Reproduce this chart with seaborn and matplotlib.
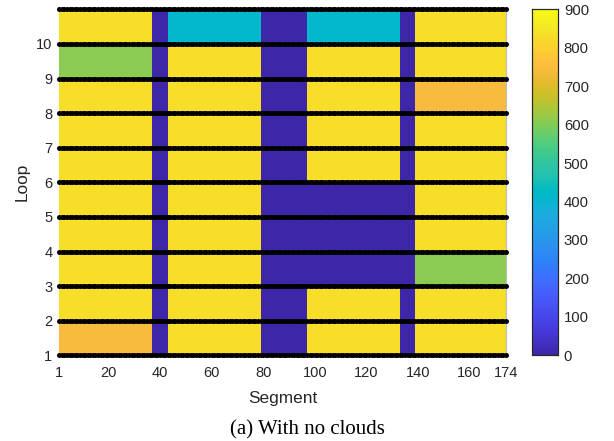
import numpy as np
import pandas as pd
import matplotlib
matplotlib.use("Agg")
import matplotlib.pyplot as plt
from matplotlib.colors import LinearSegmentedColormap
import seaborn as sns

# Segment boundaries of the constant blocks along each loop (segments 1..174)
block_edges = [1, 37, 43, 79, 97, 133, 139, 174]

# Value of every block, one list per loop band (loop 1-2 first, loop 10-11 last)
band_values = [
    [745, 0, 830, 0, 830, 0, 830],   # loop 1-2
    [830, 0, 830, 0, 830, 0, 830],   # loop 2-3
    [830, 0, 830, 0, 0, 0, 610],     # loop 3-4
    [830, 0, 830, 0, 0, 0, 830],     # loop 4-5
    [830, 0, 830, 0, 0, 0, 830],     # loop 5-6
    [830, 0, 830, 0, 830, 0, 830],   # loop 6-7
    [830, 0, 830, 0, 830, 0, 830],   # loop 7-8
    [830, 0, 830, 0, 830, 0, 745],   # loop 8-9
    [610, 0, 830, 0, 830, 0, 830],   # loop 9-10
    [830, 0, 410, 0, 410, 0, 830],   # loop 10-11
]

segments = np.arange(1, 175)
loops = np.arange(1, 12)
x_ticks = [1, 20, 40, 60, 80, 100, 120, 140, 160, 174]
y_ticks = list(range(1, 11))
cbar_ticks = list(range(0, 1000, 100))

# parula colour map
parula_rgb = [
    (0.2422, 0.1504, 0.6603), (0.2504, 0.1650, 0.7076), (0.2578, 0.1818, 0.7511),
    (0.2647, 0.1978, 0.7952), (0.2706, 0.2147, 0.8364), (0.2751, 0.2342, 0.8710),
    (0.2783, 0.2559, 0.8991), (0.2803, 0.2782, 0.9221), (0.2813, 0.3006, 0.9414),
    (0.2810, 0.3228, 0.9579), (0.2795, 0.3447, 0.9717), (0.2760, 0.3667, 0.9829),
    (0.2699, 0.3892, 0.9906), (0.2602, 0.4123, 0.9952), (0.2440, 0.4358, 0.9988),
    (0.2206, 0.4603, 0.9973), (0.1963, 0.4847, 0.9892), (0.1834, 0.5074, 0.9798),
    (0.1786, 0.5289, 0.9682), (0.1764, 0.5499, 0.9520), (0.1687, 0.5703, 0.9359),
    (0.1540, 0.5902, 0.9218), (0.1460, 0.6091, 0.9079), (0.1380, 0.6276, 0.8973),
    (0.1248, 0.6459, 0.8883), (0.1113, 0.6635, 0.8763), (0.0952, 0.6798, 0.8598),
    (0.0689, 0.6948, 0.8394), (0.0297, 0.7082, 0.8163), (0.0036, 0.7203, 0.7917),
    (0.0067, 0.7312, 0.7660), (0.0433, 0.7411, 0.7394), (0.0964, 0.7500, 0.7120),
    (0.1408, 0.7584, 0.6842), (0.1717, 0.7670, 0.6554), (0.1938, 0.7758, 0.6251),
    (0.2161, 0.7843, 0.5923), (0.2470, 0.7918, 0.5567), (0.2906, 0.7973, 0.5188),
    (0.3406, 0.8008, 0.4789), (0.3909, 0.8029, 0.4354), (0.4456, 0.8024, 0.3909),
    (0.5044, 0.7993, 0.3480), (0.5616, 0.7942, 0.3045), (0.6174, 0.7876, 0.2612),
    (0.6720, 0.7793, 0.2227), (0.7242, 0.7698, 0.1910), (0.7738, 0.7598, 0.1646),
    (0.8203, 0.7498, 0.1535), (0.8634, 0.7406, 0.1596), (0.9035, 0.7330, 0.1774),
    (0.9393, 0.7288, 0.2100), (0.9728, 0.7298, 0.2394), (0.9956, 0.7434, 0.2371),
    (0.9970, 0.7659, 0.2199), (0.9952, 0.7893, 0.2028), (0.9892, 0.8136, 0.1885),
    (0.9786, 0.8386, 0.1766), (0.9676, 0.8639, 0.1643), (0.9610, 0.8890, 0.1537),
    (0.9597, 0.9135, 0.1423), (0.9628, 0.9373, 0.1265), (0.9691, 0.9606, 0.1064),
    (0.9769, 0.9839, 0.0805),
]
parula = LinearSegmentedColormap.from_list("parula", parula_rgb, N=256)

# Expand block values into one cell per segment interval
widths = np.diff(block_edges)
grid = np.array([np.repeat(row, widths) for row in band_values], dtype=float)
df = pd.DataFrame(grid, index=loops[:-1], columns=segments[:-1])

sns.set_style("white")
plt.rcParams["font.family"] = ["Liberation Sans", "DejaVu Sans"]
text_color = "#262626"

fig = plt.figure(figsize=(6.14, 4.41), dpi=100)
ax = fig.add_axes([0.0966, 0.1943, 0.7270, 0.7846])
cax = fig.add_axes([0.8660, 0.1943, 0.0433, 0.7846])

sns.heatmap(df, cmap=parula, vmin=0, vmax=900, ax=ax, cbar_ax=cax,
            xticklabels=False, yticklabels=False, rasterized=True)

ax.set_xlim(0, len(segments) - 1)
ax.set_ylim(0, len(loops) - 1)

# Black sample points along every loop
for lp in loops:
    ax.plot(segments - 1, np.full(segments.shape, lp - 1), linestyle="none",
            marker="o", color="black", markersize=3.6, markeredgewidth=0,
            clip_on=False, zorder=5)

ax.set_xticks([t - 1 for t in x_ticks])
ax.set_xticklabels([str(t) for t in x_ticks])
ax.set_yticks([t - 1 for t in y_ticks])
ax.set_yticklabels([str(t) for t in y_ticks])
ax.tick_params(axis="x", length=0, labelsize=10.5, labelcolor=text_color, pad=8)
ax.tick_params(axis="y", length=0, labelsize=10.5, labelcolor=text_color, pad=5)
ax.set_xlabel("Segment", fontsize=12.4, color=text_color, labelpad=7.5)
ax.set_ylabel("Loop", fontsize=12.4, color=text_color, labelpad=4.5)

for side in ["left", "top", "bottom"]:
    ax.spines[side].set_visible(False)
ax.spines["right"].set_visible(True)
ax.spines["right"].set_color("#bdbdbd")
ax.spines["right"].set_linewidth(0.8)

cax.set_yticks(cbar_ticks)
cax.set_yticklabels([str(t) for t in cbar_ticks])
cax.tick_params(axis="y", direction="in", length=3, width=0.8, color=text_color,
                labelsize=10.7, labelcolor=text_color, right=True, left=False, pad=4)
for sp in cax.spines.values():
    sp.set_visible(True)
    sp.set_color(text_color)
    sp.set_linewidth(0.8)

fig.text(0.5, 0.026, "(a) With no clouds", ha="center", va="center",
         fontsize=15, family=["Liberation Serif", "DejaVu Serif"], color="black")

fig.savefig("out.png", dpi=100)
